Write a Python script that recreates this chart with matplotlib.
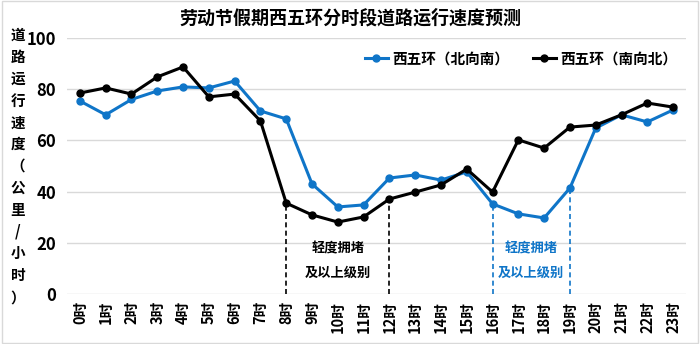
import matplotlib
matplotlib.use("Agg")
import matplotlib.pyplot as plt
from matplotlib.patches import Rectangle

plt.rcParams['font.family'] = ['Noto Sans CJK SC', 'DejaVu Sans']

hours = [f"{h}时" for h in range(24)]
north_to_south = [75.4, 70.0, 76.0, 79.3, 80.9, 80.5, 83.2, 71.5, 68.4, 43.0, 34.0, 34.8,
                  45.3, 46.5, 44.5, 47.7, 35.2, 31.3, 29.7, 41.4, 64.8, 70.0, 67.2, 71.9]
south_to_north = [78.5, 80.5, 78.1, 84.8, 88.7, 77.0, 78.1, 67.6, 35.5, 30.9, 28.1, 30.1,
                  37.1, 39.8, 42.6, 48.8, 39.8, 60.2, 57.0, 65.2, 66.0, 70.0, 74.6, 73.0]
series_names = ["西五环（北向南）", "西五环（南向北）"]
title = "劳动节假期西五环分时段道路运行速度预测"
ylabel_chars = list("道路运行速度（公里/小时）")
black_marks = [8, 12]
blue_marks = [16, 19]
note = "轻度拥堵\n及以上级别"

BLUE = "#0F75C8"
BLACK = "#000000"

fig = plt.figure(figsize=(7, 3.44), dpi=100)
fig.patches.append(Rectangle((0.003, 0.003), 0.994, 0.994, transform=fig.transFigure,
                             fill=False, edgecolor="#d9d9d9", linewidth=1.0))
ax = fig.add_axes([67/700, 1-294/344, 619/700, 256/344])

x = list(range(24))
ax.plot(x, north_to_south, color=BLUE, lw=2.2, marker='o', ms=5, label=series_names[0], zorder=3)
ax.plot(x, south_to_north, color=BLACK, lw=2.2, marker='o', ms=5, label=series_names[1], zorder=4)

for m in black_marks:
    ax.vlines(m, 0, south_to_north[m], colors=BLACK, linestyles=(0, (3, 2)), lw=1.2, zorder=2)
for m in blue_marks:
    ax.vlines(m, 0, north_to_south[m], colors=BLUE, linestyles=(0, (3, 2)), lw=1.2, zorder=2)

ax.text((black_marks[0] + black_marks[1]) / 2, 13, note, ha='center', va='center',
        fontsize=9.5, fontweight='bold', color=BLACK, linespacing=1.9)
ax.text((blue_marks[0] + blue_marks[1]) / 2, 13, note, ha='center', va='center',
        fontsize=9.5, fontweight='bold', color=BLUE, linespacing=1.9)

ax.set_xlim(-0.5, 23.5)
ax.set_ylim(0, 100)
ax.set_yticks([0, 20, 40, 60, 80, 100])
ax.set_xticks(x)
ax.set_xticklabels(hours, rotation=90, fontsize=10.5, fontweight='bold')
for lab in ax.get_yticklabels():
    lab.set_fontweight('bold')
    lab.set_fontsize(12)
ax.tick_params(length=0, pad=8)
ax.tick_params(axis='x', pad=5)
ax.grid(axis='y', color='#d9d9d9', lw=1)
ax.set_axisbelow(True)
for s in ax.spines.values():
    s.set_visible(False)

fig.text(0.5, 1-18/344, title, ha='center', va='center', fontsize=13, fontweight='bold')
fig.text(18/700, 1-166/344, "\n".join(ylabel_chars), ha='center', va='center',
         fontsize=10.5, fontweight='bold', linespacing=1.45)

ax.legend(loc='upper right', bbox_to_anchor=(1.0, 0.985), ncol=2, frameon=False,
          prop={'weight': 'bold', 'size': 10.5}, handlelength=1.6, handletextpad=0.3,
          columnspacing=1.6, borderaxespad=0.2)

fig.savefig("out.png", dpi=100)
